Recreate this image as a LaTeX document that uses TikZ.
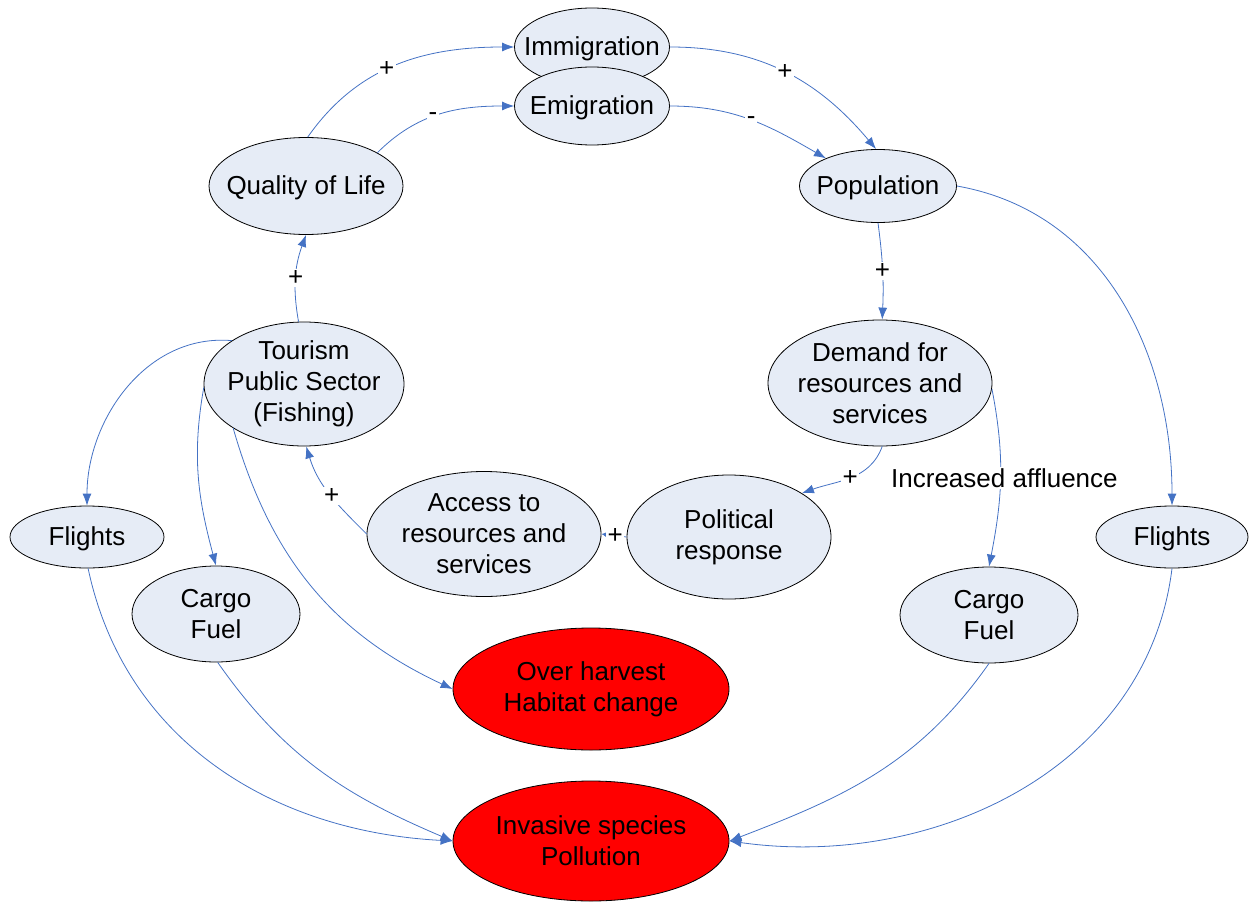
\documentclass[tikz,border=0pt]{standalone}
\usepackage{fontspec}
\setmainfont{Liberation Sans}
\usetikzlibrary{shapes.geometric,arrows.meta}
\definecolor{edgeblue}{RGB}{68,114,196}
\definecolor{nodefill}{RGB}{230,236,246}
\definecolor{hotred}{RGB}{255,0,0}
\begin{document}
\begin{tikzpicture}[x=1pt,y=-1pt,
  every node/.style={font=\fontsize{26}{31}\selectfont},
  ell/.style={ellipse, draw=black, line width=0.8pt, fill=nodefill, inner sep=0pt},
  hot/.style={ell, fill=hotred},
  lab/.style={align=center, inner sep=0pt},
  labone/.style={lab, yshift=-2pt},
  conn/.style={draw=edgeblue, line width=0.8pt, -{Latex[length=12pt,width=9pt]}},
  sign/.style={fill=white, inner sep=1.5pt, text=black}
]
\useasboundingbox (0,0) rectangle (1249,904);

\node[ell, minimum width=155pt, minimum height=78pt, label={[labone]center:Immigration}] (imm) at (592,47) {};
\node[ell, minimum width=155pt, minimum height=78pt, label={[labone]center:Emigration}] (emi) at (592,106) {};
\node[ell, minimum width=194pt, minimum height=97pt, label={[labone]center:Quality of Life}] (qol) at (306,186) {};
\node[ell, minimum width=157pt, minimum height=73pt, label={[labone]center:Population}] (pop) at (878,186) {};
\node[ell, minimum width=200pt, minimum height=124pt, label={[lab]center:Tourism\\Public Sector\\(Fishing)}] (tour) at (304,384) {};
\node[ell, minimum width=224pt, minimum height=126pt, label={[lab]center:Demand for\\resources and\\services}] (dem) at (880,383) {};
\node[ell, minimum width=234pt, minimum height=125pt, label={[lab]center:Access to\\resources and\\services}] (acc) at (484,534) {};
\node[ell, minimum width=204pt, minimum height=124pt, label={[lab]center:Political\\response}] (pol) at (729,537) {};
\node[ell, minimum width=154pt, minimum height=62pt, label={[labone]center:Flights}] (fll) at (87,537) {};
\node[ell, minimum width=168pt, minimum height=96pt, label={[lab]center:Cargo\\Fuel}] (cgl) at (216,614) {};
\node[ell, minimum width=152pt, minimum height=62pt, label={[labone]center:Flights}] (flr) at (1172,537) {};
\node[ell, minimum width=178pt, minimum height=96pt, label={[lab]center:Cargo\\Fuel}] (cgr) at (989,615) {};
\node[hot, minimum width=276pt, minimum height=122pt, label={[lab]center:Over harvest\\Habitat change}] (ovh) at (591,689) {};
\node[hot, minimum width=276pt, minimum height=120pt, label={[lab]center:Invasive species\\Pollution}] (inv) at (591,841) {};

\draw[conn] (qol.88) to[out=55,in=180] node[sign,pos=0.45]{+} (imm.west);
\draw[conn] (qol.25) to[out=45,in=180] node[sign,pos=0.45]{-} (emi.west);
\draw[conn] (imm.east) to[out=0,in=130] node[sign,pos=0.5]{+} (pop.93);
\draw[conn] (emi.east) to[out=0,in=150] node[sign,pos=0.5]{-} (pop.152);
\draw[conn] (pop.-90) to[bend left=5] node[sign]{+} (dem.88);
\draw[conn] (pop.east) to[out=-10,in=90] (flr.north);
\draw[conn] (dem.-88) to[out=-110,in=20] node[sign,pos=0.5]{+} (pol.31);
\draw[conn] (dem.-3) to[out=-79,in=79] node[sign,pos=0.5,xshift=4pt]{Increased affluence} (cgr.north);
\draw[draw=edgeblue, line width=0.8pt, -{Latex[length=5pt,width=5pt]}] (pol.west) -- node[sign,pos=0.45]{+} (acc.east);
\draw[conn] (acc.west) to[out=135,in=-73] node[sign,pos=0.47]{+} (tour.-88);
\draw[conn] (tour.95) to[bend left=15] node[sign]{+} (qol.-90);
\draw[conn] (tour.149) to[out=175,in=90] (fll.north);
\draw[conn] (tour.182) to[out=-100,in=105] (cgl.north);
\draw[conn] (tour.212) to[out=-74,in=155] (ovh.west);
\draw[conn] (fll.-88) to[out=-78,in=177] (inv.west);
\draw[conn] (cgl.-88) to[out=-55,in=157] (inv.west);
\draw[conn] (cgr.-90) to[out=-125,in=21] (inv.east);
\draw[conn] (flr.-90) to[out=-97,in=-8] (inv.east);
\end{tikzpicture}
\end{document}
